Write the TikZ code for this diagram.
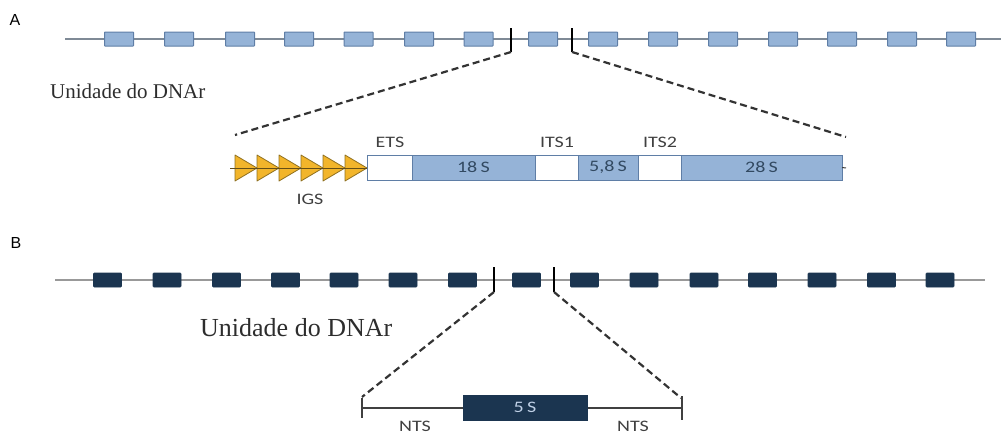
\documentclass[tikz,border=0pt]{standalone}
\usepackage{fontspec}
\setmainfont{Liberation Serif}
\newfontfamily\calfont{Carlito}
\newfontfamily\arialfont{Liberation Sans}
\definecolor{lblue}{HTML}{95B3D7}
\definecolor{lblueD}{HTML}{5F7EA6}
\definecolor{navy}{HTML}{1B3550}
\definecolor{gold}{HTML}{F2B52B}
\definecolor{goldD}{HTML}{8F7020}
\definecolor{txt}{HTML}{404040}
\definecolor{axis}{HTML}{7F8A96}
\tikzset{
  ubox/.style={draw=lblueD, fill=lblue, line width=1pt, minimum width=29pt, minimum height=14pt, inner sep=0pt, outer sep=0pt, rounded corners=0.5pt},
  nbox/.style={draw=navy, fill=navy, line width=0.6pt, minimum width=28pt, minimum height=14pt, inner sep=0pt, outer sep=0pt, rounded corners=0.8pt},
  seg/.style={draw=lblueD, line width=1pt, inner sep=0pt, outer sep=0pt, minimum height=25pt},
  tick/.style={line width=2pt, black},
  zoomline/.style={line width=2.2pt, dash pattern=on 7pt off 4pt, color=txt!80!black},
  lab/.style={font=\calfont\fontsize{16}{16}\selectfont, text=txt, xscale=1.25, inner sep=0pt},
  unit/.style={inner sep=0pt, text=txt!70!black, anchor=base west},
  panel/.style={font=\arialfont\fontsize{16}{16}\selectfont, inner sep=0pt, text=black}
}
\begin{document}
\begin{tikzpicture}[x=1pt,y=-1pt]
\useasboundingbox (0,0) rectangle (1001,434);
% ---------- Panel A ----------
\node[panel] (labA) at (15,20) {A};
\coordinate (aL) at (65,39);
\coordinate (aR) at (1001,39);
\draw[axis, line width=1.2pt] (aL) -- (aR);
\foreach \i/\x in {1/119,2/179,3/240,4/299,5/358.5,6/419,7/478.5,8/543,9/603,10/663,11/723,12/783,13/842,14/902,15/961}{
  \node[ubox] (a\i) at (\x,39) {};
}
\coordinate (t1top) at (511,28); \coordinate (t1bot) at (511,52);
\coordinate (t2top) at (572,28); \coordinate (t2bot) at (572,52);
\draw[tick] (t1top) -- (t1bot);
\draw[tick] (t2top) -- (t2bot);
\node[unit, font=\fontsize{21}{21}\selectfont] (unitA) at (50,98) {Unidade do DNAr};
% detail
\coordinate (dL) at (235,135);
\coordinate (dR) at (846,137);
\draw[zoomline] (t1bot) -- (dL);
\draw[zoomline] (t2bot) -- (dR);
\foreach \k in {0,...,5}{
  \draw[fill=gold, draw=goldD, line width=0.8pt, line join=round]
    ({235+22*\k},155) -- ({257+22*\k},168) -- ({235+22*\k},181) -- cycle;
}
\coordinate (igsL) at (230,168);
\coordinate (igsR) at (367,168);
\draw[goldD!70!black, line width=0.8pt] (igsL) -- (igsR);
\node[seg, fill=white, minimum width=45pt] (ets) at (389.5,167.5) {};
\node[seg, fill=lblue, minimum width=123pt] (s18) at (473.5,167.5) {};
\node[seg, fill=white, minimum width=43pt] (its1) at (556.5,167.5) {};
\node[seg, fill=lblue, minimum width=60pt] (s58) at (608,167.5) {};
\node[seg, fill=white, minimum width=43pt] (its2) at (659.5,167.5) {};
\node[seg, fill=lblue, minimum width=161pt] (s28) at (761.5,167.5) {};
\coordinate (endR) at (846,168);
\draw[txt, line width=1pt] (s28.east) -- (endR);
\node[lab, text=navy!90] at (s18) {18\,S};
\node[lab, text=navy!90] at (s58) {5,8\,S};
\node[lab, text=navy!90] at (s28) {28\,S};
\node[lab] (etsl) at (390,142) {ETS};
\node[lab] (its1l) at (557,142) {ITS1};
\node[lab] (its2l) at (660,142) {ITS2};
\node[lab] (igsl) at (310,199) {IGS};
% ---------- Panel B ----------
\node[panel] (labB) at (16,243) {B};
\coordinate (bL) at (55,280);
\coordinate (bR) at (985,280);
\draw[gray!80, line width=1.4pt] (bL) -- (bR);
\foreach \i/\x in {1/107.5,2/167,3/226.5,4/285.5,5/344,6/403,7/462.5,8/526.5,9/584.5,10/644,11/704,12/762.5,13/822,14/881.5,15/940}{
  \node[nbox] (b\i) at (\x,280) {};
}
\coordinate (u1top) at (494,267); \coordinate (u1bot) at (494,292);
\coordinate (u2top) at (554,267); \coordinate (u2bot) at (554,292);
\draw[tick, line width=1.8pt] (u1top) -- (u1bot);
\draw[tick, line width=1.8pt] (u2top) -- (u2bot);
\node[unit, font=\fontsize{26}{26}\selectfont] (unitB) at (200,336) {Unidade do DNAr};
\coordinate (nL) at (362,397);
\coordinate (nR) at (681,398);
\draw[zoomline] (u1bot) -- (nL);
\draw[zoomline] (u2bot) -- (nR);
\coordinate (ntsL) at (362,408);
\coordinate (ntsR) at (682,408);
\coordinate (ltop) at (362,398); \coordinate (lbot) at (362,418);
\coordinate (rtop) at (682,396); \coordinate (rbot) at (682,420);
\draw[txt, line width=1.3pt] (ntsL) -- (ntsR);
\draw[txt, line width=1.6pt] (ltop) -- (lbot);
\draw[txt, line width=1.6pt] (rtop) -- (rbot);
\node[draw=navy, fill=navy, minimum width=124pt, minimum height=25pt, inner sep=0pt] (s5) at (525,407.5) {};
\node[lab, text=lblue!60!white] at (s5) {5\,S};
\node[lab] (nts1) at (415,426) {NTS};
\node[lab] (nts2) at (633,426) {NTS};
\end{tikzpicture}
\end{document}
